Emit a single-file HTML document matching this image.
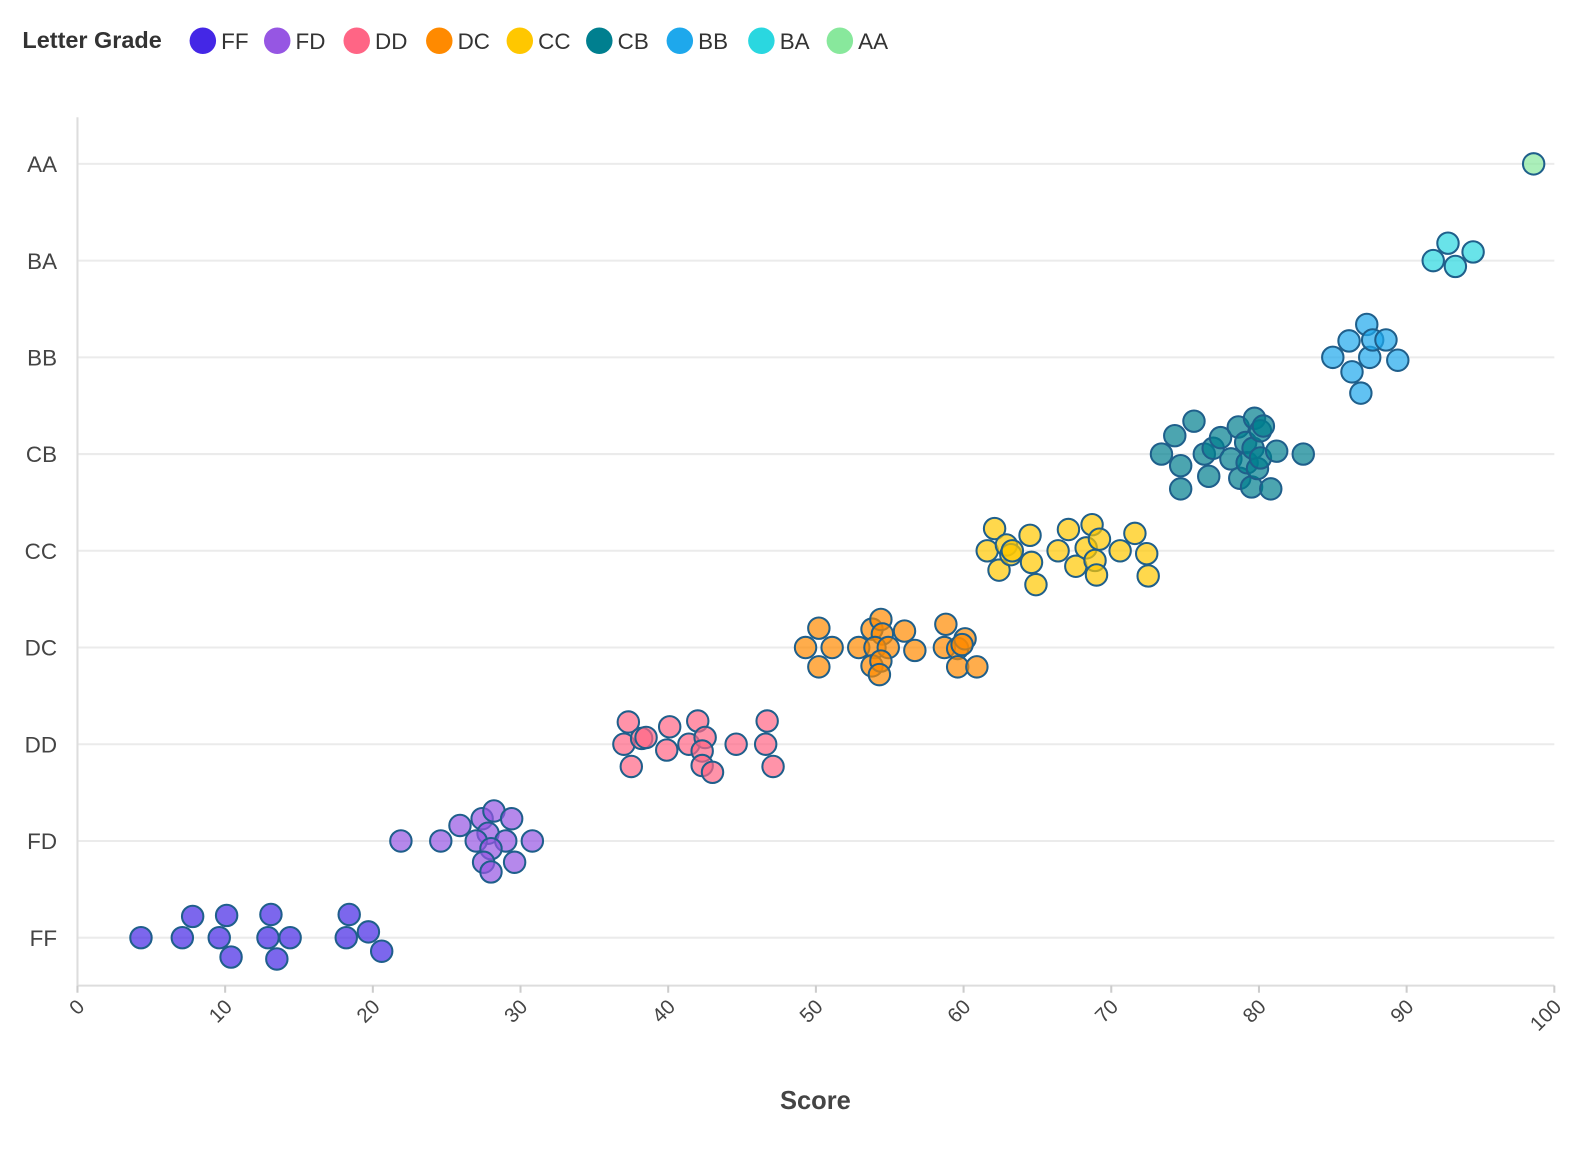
<!DOCTYPE html>
<html><head><meta charset="utf-8"><style>
html,body{margin:0;padding:0;background:#fff;}
svg{display:block;font-family:"Liberation Sans",sans-serif;}
</style></head><body>
<svg id="chart" width="1590" height="1150" viewBox="0 0 1560 1128.3" xmlns="http://www.w3.org/2000/svg">
<g id="legend"></g>
<g id="grid"></g>
<g id="axes"></g>
<g id="points"></g>
<text x="800" y="1088" text-anchor="middle" font-size="25" font-weight="bold" fill="#444">Score</text>
</svg>
<script>
const grades = ["FF","FD","DD","DC","CC","CB","BB","BA","AA"];
const colors = ["#4427e6","#9656e3","#ff6585","#ff8a00","#ffc700","#007f8f","#1ea8ec","#2ad7e0","#88e89c"];
const xTicks = [0,10,20,30,40,50,60,70,80,90,100];
const scoresFF = [4.3,7.1,7.8,9.6,10.1,10.4,12.9,13.1,13.5,14.4,18.2,18.4,19.7,20.6];
const jitterFF = [0,0,.22,0,.23,-.2,0,.24,-.22,0,0,.24,.06,-.14];
const scoresFD = [21.9,24.6,25.9,27.4,28.2,29.4,27.8,27.0,29.0,30.8,28.0,27.5,29.6,28.0];
const jitterFD = [0,0,.16,.23,.31,.23,.08,0,0,0,-.08,-.22,-.22,-.32];
const scoresDD = [37.0,37.3,37.5,38.2,38.5,39.9,40.1,41.4,42.0,42.5,42.3,42.3,43.0,44.6,46.6,46.7,47.1];
const jitterDD = [0,.23,-.23,.06,.07,-.06,.18,0,.24,.07,-.07,-.22,-.29,0,0,.24,-.23];
const scoresDC = [49.3,50.2,51.1,50.2,52.9,53.8,54.4,54.5,54.0,54.9,53.8,54.4,54.3,56.0,56.7,58.8,58.7,59.6,60.1,59.9,59.6,60.9];
const jitterDC = [0,.2,0,-.2,0,.19,.29,.14,0,0,-.19,-.14,-.28,.17,-.03,.24,0,-.01,.09,.03,-.2,-.2];
const scoresCC = [61.6,62.1,62.4,62.9,63.2,63.3,64.5,64.6,64.9,66.4,67.1,67.6,68.3,68.7,69.2,68.9,69.0,70.6,71.6,72.4,72.5];
const jitterCC = [0,.23,-.2,.06,-.04,0,.16,-.12,-.35,0,.22,-.16,.03,.27,.12,-.1,-.25,0,.18,-.03,-.26];
const scoresCB = [73.4,74.3,74.7,74.7,75.6,76.3,76.6,76.9,77.4,78.1,78.6,78.7,79.1,79.2,79.5,79.7,79.6,80.1,80.3,79.9,80.1,80.8,81.2,83.0];
const jitterCB = [0,.19,-.12,-.36,.34,0,-.23,.06,.17,-.05,.28,-.25,.12,-.09,-.34,.37,.06,.24,.29,-.15,-.04,-.36,.03,0];
const scoresBB = [85.0,86.1,86.3,86.9,87.3,87.5,87.7,88.6,89.4];
const jitterBB = [0,.17,-.15,-.37,.34,0,.18,.18,-.03];
const scoresBA = [91.8,92.8,93.3,94.5];
const jitterBA = [0,.18,-.06,.09];
const scoresAA = [98.6];
const jitterAA = [0];

const allScores = [scoresFF,scoresFD,scoresDD,scoresDC,scoresCC,scoresCB,scoresBB,scoresBA,scoresAA];
const allJitter = [jitterFF,jitterFD,jitterDD,jitterDC,jitterCC,jitterCB,jitterBB,jitterBA,jitterAA];

const NS = "http://www.w3.org/2000/svg";
const X0 = 76, X1 = 1525, YFF = 920, ROW = 94.9, TOP = 115, BOT = 967;
function xScale(v){ return X0 + (v/100)*(X1-X0); }
function yScale(i){ return YFF - i*ROW; }
function mk(tag, attrs, parent){ const e=document.createElementNS(NS,tag); for(const k in attrs) e.setAttribute(k,attrs[k]); parent.appendChild(e); return e; }

const grid=document.getElementById('grid'), axes=document.getElementById('axes'), pts=document.getElementById('points'), legend=document.getElementById('legend');

grades.forEach((g,i)=>{
  const y=yScale(i);
  const l=mk('line',{x1:X0,x2:X1,y1:y,y2:y,stroke:'#ebebeb','stroke-width':2},grid);
  
  
  const t=mk('text',{x:56,y:y+8,'text-anchor':'end','font-size':22,fill:'#444'},axes);
  t.textContent=g;
  
  
});
const ya=mk('line',{x1:X0,x2:X0,y1:TOP,y2:BOT,stroke:'#ddd','stroke-width':2},axes);


const xa=mk('line',{x1:X0,x2:X1,y1:BOT,y2:BOT,stroke:'#ddd','stroke-width':2},axes);


xTicks.forEach(v=>{
  const x=xScale(v);
  const tk=mk('line',{x1:x,x2:x,y1:BOT,y2:BOT+7,stroke:'#ccc','stroke-width':2},axes);
  
  
  const t=mk('text',{x:x+8,y:BOT+22,'text-anchor':'end','font-size':20,fill:'#444',transform:`rotate(-45 ${x+8} ${BOT+22})`},axes);
  t.textContent=v;
  
  
});

allScores.forEach((arr,gi)=>{
  arr.forEach((s,k)=>{
    const c=mk('circle',{cx:xScale(s),cy:yScale(gi)-allJitter[gi][k]*ROW,r:10.5,fill:colors[gi],'fill-opacity':0.7,stroke:'#1f5f8b','stroke-width':2},pts);
    
    
  });
});

const lt=mk('text',{x:22,y:47,'font-size':23,'font-weight':'bold',fill:'#333'},legend);
lt.textContent='Letter Grade';


const legX=[199,272,350,431,510,588,667,747,824];
grades.forEach((g,i)=>{
  const c=mk('circle',{cx:legX[i],cy:40,r:13,fill:colors[i]},legend);
  
  
  const t=mk('text',{x:legX[i]+18,y:48,'font-size':22,fill:'#333'},legend);
  t.textContent=g;
  
  
});
</script>
</body></html>
